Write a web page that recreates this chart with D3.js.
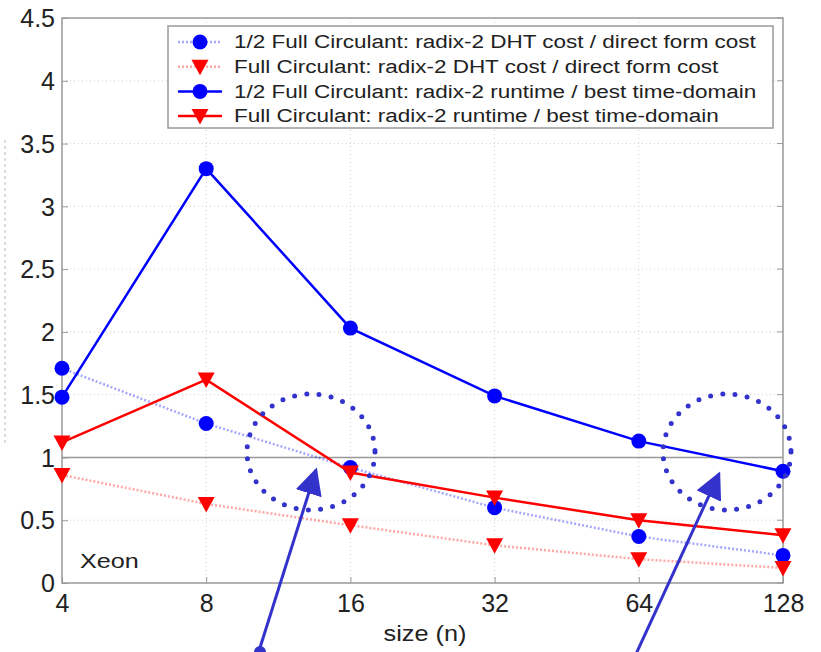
<!DOCTYPE html>
<html>
<head>
<meta charset="utf-8">
<script src="https://cdn.jsdelivr.net/npm/d3@7"></script>
<style>
  body { margin: 0; background: #fff; }
  svg { display: block; font-family: "Liberation Sans", Arial, sans-serif; }
</style>
</head>
<body>
<div class="chart"></div>
<script>
var svgWidth = 821;
var svgHeight = 652;

// data
var sizes = [4, 8, 16, 32, 64, 128];
var halfCost = [1.71, 1.27, 0.92, 0.60, 0.37, 0.22];
var fullCost = [0.86, 0.63, 0.46, 0.30, 0.19, 0.12];
var halfRuntime = [1.48, 3.30, 2.03, 1.49, 1.13, 0.89];
var fullRuntime = [1.12, 1.62, 0.88, 0.68, 0.50, 0.38];
var yTicks = [0, 0.5, 1, 1.5, 2, 2.5, 3, 3.5, 4, 4.5];
var legendLabels = [
  "1/2 Full Circulant: radix-2 DHT cost / direct form cost",
  "Full Circulant: radix-2 DHT cost / direct form cost",
  "1/2 Full Circulant: radix-2 runtime / best time-domain",
  "Full Circulant: radix-2 runtime / best time-domain"
];

var series = [
  { values: halfCost, color: "#0000ff", dotted: true, marker: "circle" },
  { values: fullCost, color: "#ff0000", dotted: true, marker: "tri" },
  { values: halfRuntime, color: "#0000ff", dotted: false, marker: "circle" },
  { values: fullRuntime, color: "#ff0000", dotted: false, marker: "tri" }
];

var plot = { left: 62, right: 783, top: 18, bottom: 583 };

var svg = d3.select(".chart")
  .append("svg")
  .attr("width", svgWidth)
  .attr("height", svgHeight);

var x = d3.scaleLog().base(2)
  .domain([4, 128])
  .range([plot.left, plot.right]);

var y = d3.scaleLinear()
  .domain([0, 4.5])
  .range([plot.bottom, plot.top]);

// faint scan artefact on the left
svg.append("line")
  .attr("x1", 5).attr("x2", 5)
  .attr("y1", 140).attr("y2", 445)
  .attr("stroke", "#bbb")
  .attr("stroke-dasharray", "3 3");

// grid
var grid = svg.append("g");
grid.selectAll(".gy")
  .data(yTicks.filter(d => d > 0 && d < 4.5))
  .enter().append("line")
  .attr("x1", plot.left).attr("x2", plot.right)
  .attr("y1", d => y(d)).attr("y2", d => y(d))
  .attr("stroke", "#d0d0d0")
  .attr("stroke-dasharray", "1 3");
grid.selectAll(".gx")
  .data(sizes.slice(1, -1))
  .enter().append("line")
  .attr("x1", d => x(d)).attr("x2", d => x(d))
  .attr("y1", plot.top).attr("y2", plot.bottom)
  .attr("stroke", "#d0d0d0")
  .attr("stroke-dasharray", "1 3");

// solid reference line at 1
svg.append("line")
  .attr("x1", plot.left).attr("x2", plot.right)
  .attr("y1", y(1)).attr("y2", y(1))
  .attr("stroke", "#999")
  .attr("stroke-width", 1.5);

// axes
var bottomAxis = d3.axisBottom(x)
  .tickValues(sizes)
  .tickFormat(d3.format("d"))
  .tickSizeInner(-6).tickSizeOuter(0).tickPadding(10);
var leftAxis = d3.axisLeft(y)
  .tickValues(yTicks)
  .tickFormat(d => d)
  .tickSizeInner(-6).tickSizeOuter(0).tickPadding(7);

var gx = svg.append("g")
  .attr("transform", `translate(0, ${plot.bottom})`)
  .call(bottomAxis);
var gy = svg.append("g")
  .attr("transform", `translate(${plot.left}, 0)`)
  .call(leftAxis);

[gx, gy].forEach(function(g) {
  g.select(".domain").remove();
  g.selectAll("line").attr("stroke", "#999");
  g.selectAll("text")
    .attr("font-size", 25)
    .attr("fill", "#222")
    .attr("font-family", "Liberation Sans, Arial, sans-serif");
});
gy.selectAll("text").attr("dy", "0.35em");
gx.selectAll("text").attr("dy", "0.75em");

// right-side ticks
svg.append("g").selectAll("line")
  .data(yTicks)
  .enter().append("line")
  .attr("x1", plot.right - 6).attr("x2", plot.right)
  .attr("y1", d => y(d)).attr("y2", d => y(d))
  .attr("stroke", "#999");

// plot box
svg.append("rect")
  .attr("x", plot.left).attr("y", plot.top)
  .attr("width", plot.right - plot.left)
  .attr("height", plot.bottom - plot.top)
  .attr("fill", "none")
  .attr("stroke", "#999")
  .attr("stroke-width", 1.5);

// x label and note (text in the scan is stretched sideways)
svg.append("text")
  .attr("transform", "translate(425, 641) scale(1.15, 1)")
  .attr("text-anchor", "middle")
  .attr("font-size", 22)
  .attr("fill", "#222")
  .text("size (n)");

svg.append("text")
  .attr("transform", "translate(80, 568) scale(1.2, 1)")
  .attr("font-size", 21)
  .attr("fill", "#222")
  .text("Xeon");

var line = d3.line()
  .x((d, i) => x(sizes[i]))
  .y(d => y(d));

function drawMarker(g, type, color, cx, cy) {
  if (type === "circle") {
    g.append("circle")
      .attr("cx", cx).attr("cy", cy).attr("r", 7.5)
      .attr("fill", color);
  } else {
    g.append("path")
      .attr("d", `M${cx - 8.5},${cy - 7}L${cx + 8.5},${cy - 7}L${cx},${cy + 8.5}Z`)
      .attr("fill", color);
  }
}

series.forEach(function(s) {
  var g = svg.append("g");
  g.append("path")
    .datum(s.values)
    .attr("d", line)
    .attr("fill", "none")
    .attr("stroke", s.color)
    .attr("stroke-width", 2.5)
    .attr("stroke-opacity", s.dotted ? 0.35 : 1)
    .attr("stroke-dasharray", s.dotted ? "2 2" : null);
  s.values.forEach(function(v, i) {
    drawMarker(g, s.marker, s.color, x(sizes[i]), y(v));
  });
});

// legend
var legend = svg.append("g");
legend.append("rect")
  .attr("x", 168).attr("y", 26)
  .attr("width", 605).attr("height", 102)
  .attr("fill", "#fff")
  .attr("stroke", "#999")
  .attr("stroke-width", 1.5);

series.forEach(function(s, i) {
  var ly = 42 + i * 24.7;
  legend.append("line")
    .attr("x1", 178).attr("x2", 222)
    .attr("y1", ly).attr("y2", ly)
    .attr("stroke", s.color)
    .attr("stroke-width", 2.5)
    .attr("stroke-opacity", s.dotted ? 0.35 : 1)
    .attr("stroke-dasharray", s.dotted ? "2 2" : null);
  drawMarker(legend, s.marker, s.color, 200, ly);
  legend.append("text")
    .attr("transform", `translate(234, ${ly}) scale(1.25, 1)`)
    .attr("dy", "0.35em")
    .attr("font-size", 18)
    .attr("fill", "#222")
    .text(legendLabels[i]);
});

// annotations: dotted ellipses and arrows
var annColor = "#3333cc";
var defs = svg.append("defs");
defs.append("marker")
  .attr("id", "head")
  .attr("viewBox", "0 0 10 10")
  .attr("refX", 9).attr("refY", 5)
  .attr("markerWidth", 9).attr("markerHeight", 9)
  .attr("markerUnits", "strokeWidth")
  .attr("orient", "auto")
  .append("path")
  .attr("d", "M0,0L10,5L0,10Z")
  .attr("fill", annColor);

var ellipses = [[311, 452], [727, 452]];
svg.selectAll(".ann")
  .data(ellipses)
  .enter().append("ellipse")
  .attr("cx", d => d[0]).attr("cy", d => d[1])
  .attr("rx", 64).attr("ry", 58)
  .attr("fill", "none")
  .attr("stroke", annColor)
  .attr("stroke-width", 5)
  .attr("stroke-linecap", "round")
  .attr("stroke-dasharray", "0 12.3");

var arrows = [[258, 654, 316, 470], [636, 654, 719, 474]];
svg.selectAll(".arrow")
  .data(arrows)
  .enter().append("line")
  .attr("x1", d => d[0]).attr("y1", d => d[1])
  .attr("x2", d => d[2]).attr("y2", d => d[3])
  .attr("stroke", annColor)
  .attr("stroke-width", 3)
  .attr("marker-end", "url(#head)");

svg.append("circle")
  .attr("cx", 260).attr("cy", 652).attr("r", 6)
  .attr("fill", annColor);
</script>
</body>
</html>
